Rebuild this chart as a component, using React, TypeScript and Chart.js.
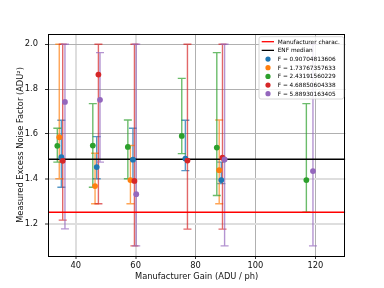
import React, { useEffect, useRef } from "react";
import { Chart, registerables } from "chart.js";

Chart.register(...registerables);

// ---- axis limits & ticks ----
const xLimits = [30.74, 130.0];
const yLimits = [1.055, 2.046];
const xTicks = [40, 60, 80, 100, 120];
const yTicks = [1.2, 1.4, 1.6, 1.8, 2.0];
const lightXTicks = [40, 60];
const lightYTicks = [1.2, 1.4];

// ---- reference lines ----
const manufacturerENF = 1.25;
const medianENF = 1.487;
const lineLabels = ["Manufacturer charac.", "ENF median"];
const lineColors = ["#ff0000", "#000000"];

// ---- series ----
const seriesLabels = [
  "F = 0.90704813606",
  "F = 1.73767357633",
  "F = 2.43191560229",
  "F = 4.68850604338",
  "F = 5.88930163405",
];
const seriesColors = ["#1f77b4", "#ff7f0e", "#2ca02c", "#d62728", "#9467bd"];
const seriesBarColors = [
  "rgba(31,119,180,0.75)",
  "rgba(255,127,14,0.7)",
  "rgba(44,160,44,0.7)",
  "rgba(214,39,40,0.7)",
  "rgba(148,103,189,0.7)",
];

const gainBlue = [35.2, 47.0, 59.1, 76.6, 88.6];
const enfBlue = [1.496, 1.452, 1.485, 1.49, 1.394];
const lowBlue = [1.362, 1.4, 1.39, 1.436, 1.378];
const highBlue = [1.661, 1.588, 1.625, 1.661, 1.474];

const gainOrange = [34.5, 46.45, 58.26, 87.9];
const enfOrange = [1.585, 1.367, 1.394, 1.438];
const lowOrange = [1.4, 1.288, 1.288, 1.288];
const highOrange = [2.0, 1.514, 1.548, 1.662];

const gainGreen = [33.85, 45.7, 57.4, 75.4, 87.1, 117.0];
const enfGreen = [1.547, 1.548, 1.542, 1.591, 1.539, 1.394];
const lowGreen = [1.474, 1.362, 1.4, 1.512, 1.325, 1.251];
const highGreen = [1.625, 1.735, 1.662, 1.848, 1.963, 1.735];

const gainRed = [35.65, 47.57, 59.6, 77.3, 89.0];
const enfRed = [1.48, 1.865, 1.39, 1.481, 1.494];
const lowRed = [1.215, 1.288, 1.1, 1.175, 1.175];
const highRed = [2.0, 2.0, 2.0, 2.0, 2.0];

const gainPurple = [36.4, 48.1, 60.2, 89.7, 119.2];
const enfPurple = [1.743, 1.752, 1.331, 1.486, 1.434];
const lowPurple = [1.176, 1.474, 1.1, 1.1, 1.1];
const highPurple = [2.0, 1.963, 2.0, 2.0, 2.0];

const seriesGain = [gainBlue, gainOrange, gainGreen, gainRed, gainPurple];
const seriesEnf = [enfBlue, enfOrange, enfGreen, enfRed, enfPurple];
const seriesLow = [lowBlue, lowOrange, lowGreen, lowRed, lowPurple];
const seriesHigh = [highBlue, highOrange, highGreen, highRed, highPurple];

const FONT = '"DejaVu Sans", sans-serif';

const errorBarPlugin = {
  id: "errorBars",
  beforeDatasetsDraw(chart: any) {
    const { ctx, chartArea } = chart;
    const xs = chart.scales.x;
    const ys = chart.scales.y;
    ctx.save();
    ctx.beginPath();
    ctx.rect(chartArea.left, chartArea.top, chartArea.right - chartArea.left, chartArea.bottom - chartArea.top);
    ctx.clip();
    chart.data.datasets.forEach((ds: any) => {
      if (!ds.errLow) return;
      ctx.strokeStyle = ds.barColor;
      ctx.lineWidth = 1.4;
      ds.data.forEach((p: any, j: number) => {
        const x = xs.getPixelForValue(p.x);
        const yl = ys.getPixelForValue(ds.errLow[j]);
        const yh = ys.getPixelForValue(ds.errHigh[j]);
        ctx.beginPath();
        ctx.moveTo(x, yl);
        ctx.lineTo(x, yh);
        ctx.moveTo(x - 4, yl);
        ctx.lineTo(x + 4, yl);
        ctx.moveTo(x - 4, yh);
        ctx.lineTo(x + 4, yh);
        ctx.stroke();
      });
    });
    ctx.restore();
  },
};

const framePlugin = {
  id: "frameLegend",
  afterDraw(chart: any) {
    const { ctx, chartArea } = chart;
    const { left, right, top, bottom } = chartArea;
    ctx.save();
    ctx.strokeStyle = "#000";
    ctx.lineWidth = 1;
    ctx.strokeRect(Math.round(left) + 0.5, Math.round(top) + 0.5, Math.round(right - left) - 1, Math.round(bottom - top));

    // legend
    const bx1 = right - 1.6;
    const bx0 = bx1 - 84.7;
    const by0 = top + 2.7;
    const by1 = by0 + 62.3;
    ctx.fillStyle = "rgba(255,255,255,0.85)";
    ctx.strokeStyle = "#cccccc";
    ctx.lineWidth = 0.8;
    ctx.beginPath();
    (ctx as any).roundRect(bx0, by0, bx1 - bx0, by1 - by0, 2);
    ctx.fill();
    ctx.stroke();

    const rowY0 = by0 + 5.0;
    const rowStep = 8.67;
    ctx.font = `5.8px ${FONT}`;
    ctx.textBaseline = "middle";
    ctx.textAlign = "left";
    const labels = [...lineLabels, ...seriesLabels];
    labels.forEach((lab, i) => {
      const y = rowY0 + i * rowStep;
      if (i < lineLabels.length) {
        ctx.strokeStyle = lineColors[i];
        ctx.lineWidth = 1.3;
        ctx.beginPath();
        ctx.moveTo(bx0 + 2.7, y);
        ctx.lineTo(bx0 + 15, y);
        ctx.stroke();
      } else {
        ctx.fillStyle = seriesColors[i - lineLabels.length];
        ctx.beginPath();
        ctx.arc(bx0 + 9, y, 2.6, 0, Math.PI * 2);
        ctx.fill();
      }
      ctx.fillStyle = "#000";
      ctx.fillText(lab, bx0 + 18.7, y + 0.3);
    });
    ctx.restore();
  },
};

export default function App() {
  const ref = useRef<HTMLCanvasElement>(null);
  useEffect(() => {
    const lineDatasets = [manufacturerENF, medianENF].map((v, i) => ({
      type: "line" as const,
      label: lineLabels[i],
      data: [
        { x: xLimits[0], y: v },
        { x: xLimits[1], y: v },
      ],
      borderColor: lineColors[i],
      borderWidth: 1.4,
      pointRadius: 0,
      order: 10 + i,
    }));
    const scatterDatasets = seriesLabels.map((lab, i) => ({
      type: "scatter" as const,
      label: lab,
      data: seriesGain[i].map((g, j) => ({ x: g, y: seriesEnf[i][j] })),
      backgroundColor: seriesColors[i],
      borderColor: seriesColors[i],
      borderWidth: 0,
      pointRadius: 2.9,
      errLow: seriesLow[i],
      errHigh: seriesHigh[i],
      barColor: seriesBarColors[i],
      order: 5 - i,
    }));
    const chart = new Chart(ref.current!, {
      type: "scatter",
      data: { datasets: [...lineDatasets, ...scatterDatasets] as any },
      options: {
        animation: false,
        responsive: false,
        devicePixelRatio: 1,
        layout: { padding: { left: 0, top: 34, right: 38.7, bottom: 0 } },
        plugins: { legend: { display: false }, tooltip: { enabled: false } },
        scales: {
          x: {
            type: "linear",
            min: xLimits[0],
            max: xLimits[1],
            afterBuildTicks: (s: any) => {
              s.ticks = xTicks.map((v) => ({ value: v }));
            },
            afterFit: (s: any) => {
              s.height = 32;
            },
            grid: {
              color: (c: any) => (c.tick && lightXTicks.includes(c.tick.value) ? "#dedede" : "#b0b0b0"),
              lineWidth: (c: any) => (c.tick && lightXTicks.includes(c.tick.value) ? 2 : 1),
              tickColor: "#000",
              tickLength: 3,
              tickWidth: 0.8,
            },
            border: { display: false },
            ticks: {
              color: "#111",
              font: { family: FONT, size: 8.3 },
              padding: 2,
              maxRotation: 0,
              callback: (v: any) => String(v),
            },
            title: {
              display: true,
              text: "Manufacturer Gain (ADU / ph)",
              color: "#111",
              font: { family: FONT, size: 8.3 },
              padding: { top: 0, bottom: 6 },
            },
          },
          y: {
            type: "linear",
            min: yLimits[0],
            max: yLimits[1],
            afterBuildTicks: (s: any) => {
              s.ticks = yTicks.map((v) => ({ value: v }));
            },
            afterFit: (s: any) => {
              s.width = 48;
            },
            grid: {
              color: (c: any) =>
                c.tick && lightYTicks.some((t) => Math.abs(t - c.tick.value) < 1e-6) ? "#dedede" : "#b0b0b0",
              lineWidth: (c: any) =>
                c.tick && lightYTicks.some((t) => Math.abs(t - c.tick.value) < 1e-6) ? 2 : 1,
              tickColor: "#000",
              tickLength: 3,
              tickWidth: 0.8,
            },
            border: { display: false },
            ticks: {
              color: "#111",
              font: { family: FONT, size: 8.3 },
              padding: 7,
              callback: (v: any) => Number(v).toFixed(1),
            },
            title: {
              display: true,
              text: "Measured Excess Noise Factor (ADU²)",
              color: "#111",
              font: { family: FONT, size: 8.3 },
              padding: { top: 15.5, bottom: 0 },
            },
          },
        },
      },
      plugins: [errorBarPlugin, framePlugin],
    } as any);
    return () => chart.destroy();
  }, []);
  return (
    <div style={{ position: "absolute", left: 0, top: 0, width: 384, height: 288, background: "#fff" }}>
      <canvas ref={ref} width={384} height={288} style={{ display: "block", width: 384, height: 288 }} />
    </div>
  );
}
